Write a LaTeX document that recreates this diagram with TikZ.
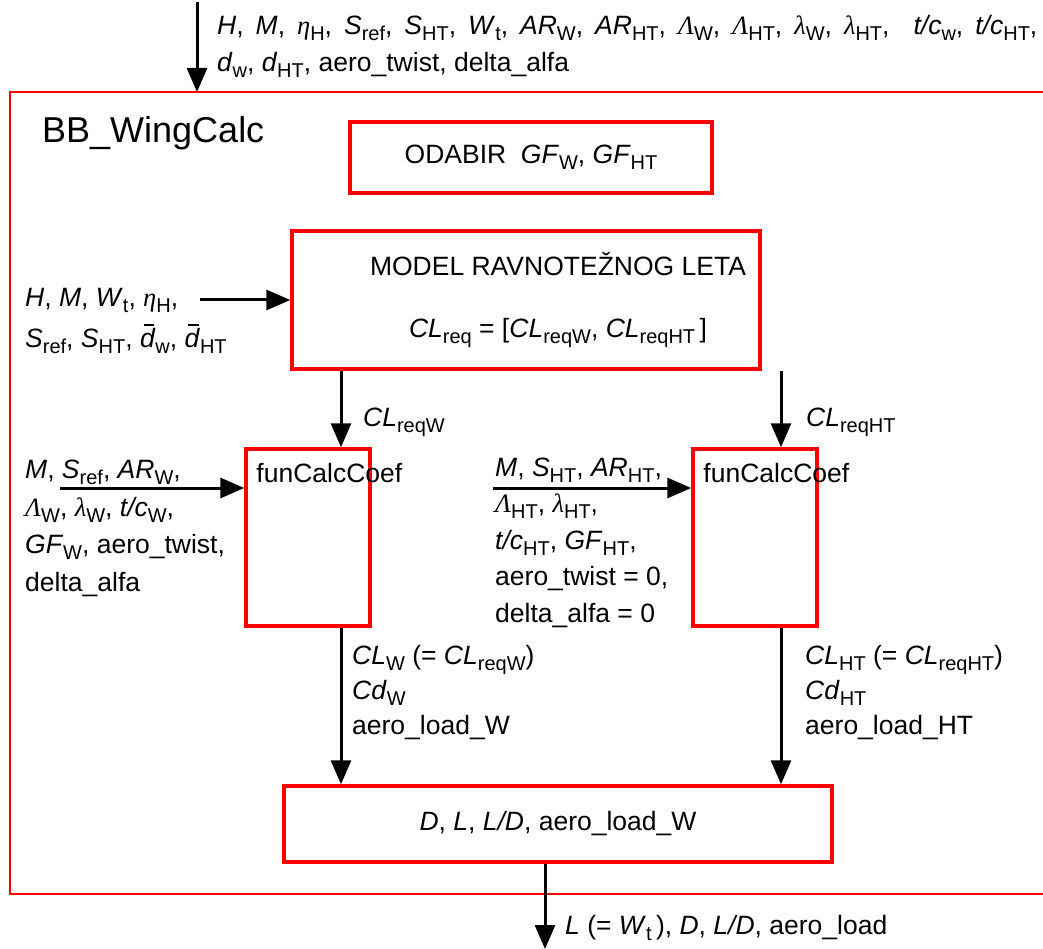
\documentclass[tikz,border=0pt]{standalone}
\usepackage{fontspec}
\setmainfont{Liberation Sans}
\newfontfamily\grkfont{Liberation Serif}
\usepackage{tikz}
\usetikzlibrary{arrows.meta, positioning}
\newcommand{\vi}[1]{\textit{#1}}
\newcommand{\lo}[1]{\raisebox{-6pt}{\fontsize{20}{20}\selectfont #1}}
\newcommand{\gk}[1]{{\grkfont\itshape #1}}
\newcommand{\dbar}{\makebox[0pt][l]{\hspace{0.14em}\raisebox{0.8em}{\rule{0.4em}{0.06em}}}\textit{d}}

\begin{document}
\begin{tikzpicture}[x=1pt, y=-1pt, >={Triangle[length=24pt,width=20pt]},
  every node/.style={font=\fontsize{26.5}{37.5}\selectfont},
  box/.style={draw=red, line width=3.5pt, inner sep=0pt},
  frame/.style={draw=red, line width=1.8pt},
  flow/.style={->, line width=3pt},
  txt/.style={inner sep=0pt, align=left}]
  \useasboundingbox (0,0) rectangle (1043,949);
  % frame
  \draw[frame] (1043,92) -| (10,894) -- (1043,894);
  \node[anchor=base west, inner sep=0pt, font=\fontsize{36}{40}\selectfont] (title) at (42,143) {BB\_WingCalc};
  % blocks
  \node[box, minimum width=362pt, minimum height=71pt] (odabir) at (531,157.5) {ODABIR\ \ \vi{GF}\lo{W}, \vi{GF}\lo{HT}};
  \node[box, minimum width=468pt, minimum height=138pt] (model) at (526,300) {};
  \node[txt, align=center] (modelTxt) at (558,300)
    {MODEL RAVNOTEŽNOG LETA\\[24pt]\vi{CL}\lo{req} = [\vi{CL}\lo{reqW},\ \vi{CL}\lo{reqHT}\,]};
  \node[box, minimum width=124pt, minimum height=177pt] (calcW) at (308,537.5) {};
  \node[box, minimum width=124pt, minimum height=177pt] (calcHT) at (755,537.5) {};
  \node[box, minimum width=548pt, minimum height=76pt] (result) at (558,824) {\vi{D}, \vi{L}, \vi{L/D}, aero\_load\_W};
  \node[txt, anchor=base west] (calcWname) at ([xshift=12pt,yshift=-35pt]calcW.north west) {funCalcCoef};
  \node[txt, anchor=base west] (calcHTname) at ([xshift=12pt,yshift=-35pt]calcHT.north west) {funCalcCoef};
  % inputs (base = last line)
  \coordinate (inTop) at (197,2);
  \coordinate (frameTop) at (197,92);
  \draw[flow] (inTop) -- (frameTop);
  \node[txt, anchor=base west] (inTopTxt) at (217,72)
    {{\spaceskip=12pt \vi{H}, \vi{M}, \gk{η}\lo{H}, \vi{S}\lo{ref}, \vi{S}\lo{HT}, \vi{W}\lo{t}, \vi{AR}\lo{W}, \vi{AR}\lo{HT}, \gk{Λ}\lo{W}, \gk{Λ}\lo{HT}, \gk{λ}\lo{W}, \gk{λ}\lo{HT},\ \ \vi{t/c}\lo{w}, \vi{t/c}\lo{HT},}\\
     \vi{d}\lo{w}, \vi{d}\lo{HT}, aero\_twist, delta\_alfa};
  \coordinate (inModel) at (200,300);
  \draw[flow] (inModel) -- (model.west);
  \node[txt, anchor=base west] (inModelTxt) at (25,347)
    {\vi{H}, \vi{M}, \vi{W}\lo{t}, \gk{η}\lo{H},\\[3.5pt]
     \vi{S}\lo{ref}, \vi{S}\lo{HT}, \dbar\lo{w}, \dbar\lo{HT}};
  \coordinate (inW) at (60,488);
  \draw[flow] (inW) -- (inW -| calcW.west);
  \node[txt, anchor=base west] (inWTxt) at (25,591)
    {\vi{M}, \vi{S}\lo{ref}, \vi{AR}\lo{W},\\
     \gk{Λ}\lo{W}, \gk{λ}\lo{W}, \vi{t/c}\lo{W},\\
     \vi{GF}\lo{W}, aero\_twist,\\
     delta\_alfa};
  \coordinate (inHT) at (493,488);
  \draw[flow] (inHT) -- (inHT -| calcHT.west);
  \node[txt, anchor=base west] (inHTTxt) at (495,622)
    {\vi{M}, \vi{S}\lo{HT}, \vi{AR}\lo{HT},\\[-1pt]
     \gk{Λ}\lo{HT}, \gk{λ}\lo{HT},\\[-1pt]
     \vi{t/c}\lo{HT}, \vi{GF}\lo{HT},\\[-1pt]
     aero\_twist = 0,\\[-1pt]
     delta\_alfa = 0};
  % coefficients
  \coordinate (xW) at (341,0);
  \coordinate (xHT) at (781,0);
  \draw[flow] (model.south -| xW) -- (calcW.north -| xW);
  \draw[flow] (model.south -| xHT) -- (calcHT.north -| xHT);
  \node[txt, anchor=base west] (clW) at (363,426) {\vi{CL}\lo{reqW}};
  \node[txt, anchor=base west] (clHT) at (806,426) {\vi{CL}\lo{reqHT}};
  % outputs
  \draw[flow] (calcW.south -| xW) -- (result.north -| xW);
  \draw[flow] (calcHT.south -| xHT) -- (result.north -| xHT);
  \node[txt, anchor=base west] (outWTxt) at (352,734)
    {\vi{CL}\lo{W} (= \vi{CL}\lo{reqW})\\[-2.5pt]\vi{Cd}\lo{W}\\[-2.5pt]aero\_load\_W};
  \node[txt, anchor=base west] (outHTTxt) at (805,734)
    {\vi{CL}\lo{HT} (= \vi{CL}\lo{reqHT})\\[-2.5pt]\vi{Cd}\lo{HT}\\[-2.5pt]aero\_load\_HT};
  \coordinate (outEnd) at (545,949);
  \draw[flow] (result.south -| outEnd) -- (outEnd);
  \node[txt, anchor=base west] (outTxt) at (565,934) {\vi{L} (= \vi{W}\lo{t}\,), \vi{D}, \vi{L/D}, aero\_load};
\end{tikzpicture}
\end{document}
